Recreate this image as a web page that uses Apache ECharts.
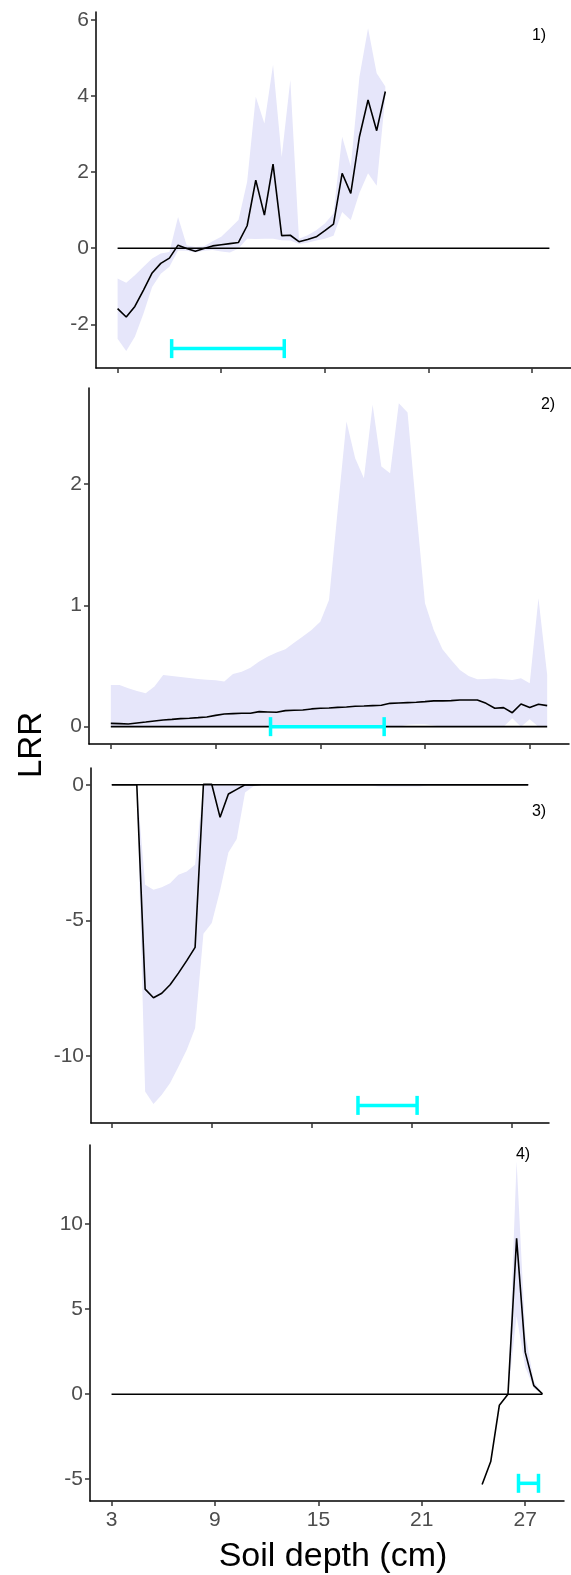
<!DOCTYPE html>
<html>
<head>
<meta charset="utf-8">
<script src="https://cdn.jsdelivr.net/npm/echarts@6/dist/echarts.min.js"></script>
<style>
  html, body { margin: 0; padding: 0; background: #fff; }
  #chart { width: 571px; height: 1575px; }
</style>
</head>
<body>
<div id="chart"></div>
<script>
// soil depth (cm), 0.5 cm steps
const depth = [3,3.5,4,4.5,5,5.5,6,6.5,7,7.5,8,8.5,9,9.5,10,10.5,11,11.5,12,12.5,13,13.5,14,14.5,15,15.5,
               16,16.5,17,17.5,18,18.5,19,19.5,20,20.5,21,21.5,22,22.5,23,23.5,24,24.5,25,25.5,26,26.5,27,27.5,28];
const depthP1 = [3,3.5,4,4.5,5,5.5,6,6.5,7,7.5,8,8.5,9,9.5,10,10.5,11,11.5,12,12.5,13,13.5,14,14.5,15,15.5,
                 16,16.5,17,17.5,18,18.5];

// panel 1
const p1Mean  = [-1.59,-1.81,-1.53,-1.10,-0.65,-0.40,-0.26,0.08,-0.01,-0.08,-0.01,0.06,0.09,0.12,0.15,0.59,
                 1.79,0.87,2.21,0.33,0.34,0.17,0.23,0.30,0.46,0.63,1.97,1.44,2.93,3.90,3.09,4.12];
const p1Upper = [-0.80,-0.91,-0.71,-0.49,-0.27,-0.14,-0.10,0.82,0.08,0.03,0.05,0.18,0.30,0.52,0.74,1.75,
                 3.98,3.28,4.82,2.40,4.42,0.25,0.34,0.47,0.65,0.91,2.93,2.15,4.50,5.78,4.60,4.25];
const p1Lower = [-2.38,-2.70,-2.33,-1.72,-1.02,-0.67,-0.49,-0.06,-0.07,-0.11,-0.07,-0.05,-0.09,-0.11,-0.01,0.25,
                 0.24,0.25,0.25,0.21,0.20,0.11,0.14,0.20,0.25,0.33,0.95,0.74,1.45,1.97,1.64,4.00];

// panel 2
const p2Mean  = [0.027,0.025,0.022,0.030,0.038,0.047,0.055,0.060,0.066,0.069,
                 0.074,0.080,0.093,0.104,0.107,0.110,0.110,0.124,0.121,0.118,
                 0.132,0.135,0.137,0.146,0.151,0.154,0.159,0.162,0.168,0.170,
                 0.173,0.176,0.192,0.195,0.198,0.201,0.206,0.212,0.212,0.214,
                 0.220,0.220,0.220,0.192,0.151,0.157,0.115,0.187,0.157,0.184,0.173];
const p2Upper = [0.343,0.343,0.316,0.294,0.275,0.330,0.426,0.418,0.409,0.400,
                 0.393,0.387,0.382,0.371,0.434,0.453,0.486,0.536,0.577,0.610,
                 0.637,0.692,0.742,0.797,0.865,1.044,1.786,2.514,2.212,2.047,
                 2.651,2.143,2.088,2.665,2.588,1.786,1.016,0.797,0.637,0.549,
                 0.467,0.418,0.390,0.393,0.396,0.390,0.385,0.398,0.357,1.058,0.426];
const p2Lower = [0,0,0,0,0,0,0,0,0,0,
                 0,0,0,0,0,0,0,0,0,0,
                 0,0,0,0,0,0,0,0,0,0,
                 0,0,0,0,0.015,0.02,0.02,0.01,0,0,
                 0,0,0,0,0,0,0.07,0,0.06,0,0];

// panel 3
const p3Mean  = [0,0,0,0,-7.54,-7.86,-7.69,-7.38,-6.95,-6.49,
                 -6.00,0.02,0.02,-1.20,-0.34,-0.17,0,-0.01,0,0,
                 0,0,0,0,0,0,0,0,0,0,
                 0,0,0,0,0,0,0,0,0,0,
                 0,0,0,0,0,0,0,0,0,0,0];
const p3Upper = [0,0,0,0,-3.69,-3.87,-3.78,-3.63,-3.32,-3.20,
                 -2.95,0.02,0.02,0.02,0.02,0.02,0.02,0.01,0,0,
                 0,0,0,0,0,0,0,0,0,0,
                 0,0,0,0,0,0,0,0,0,0,
                 0,0,0,0,0,0,0,0,0,0,0];
const p3Lower = [0,0,0,0,-11.32,-11.78,-11.44,-11.00,-10.40,-9.78,
                 -8.98,-5.50,-5.10,-3.90,-2.50,-2.00,-0.28,-0.05,-0.02,-0.02,
                 -0.02,-0.02,-0.02,-0.02,-0.02,-0.02,-0.02,-0.02,-0.02,-0.02,
                 -0.02,-0.02,-0.06,-0.06,-0.06,-0.06,-0.06,-0.06,-0.02,-0.02,
                 -0.02,-0.02,-0.02,-0.02,-0.02,-0.02,-0.02,-0.02,-0.02,-0.02,-0.02];

// panel 4
const p4Depth = [24.5,25,25.5,26,26.5,27,27.5,28];
const p4Mean  = [-5.31,-3.96,-0.65,0,9.16,2.47,0.50,0.02];
const p4BandDepth = [26,26.5,27,27.5,28];
const p4Upper = [0,13.7,3.6,0.75,0.02];
const p4Lower = [0,4.6,1.6,0.35,0];

// horizontal bars: [from, to, at LRR]
const barP1 = [6.13, 12.65, -2.64];
const barP2 = [12.15, 18.66, 0];
const barP3 = [17.78, 21.33, -11.83];
const barP4 = [26.61, 27.77, -5.24];

// zero reference
const refDepth = [3, 28];
const refValue = [0, 0];

const xTicks = [3, 9, 15, 21, 27];
const yTicks = [[-2, 0, 2, 4, 6], [0, 1, 2], [-10, -5, 0], [-5, 0, 5, 10]];
const yRange = [[-3.15, 6.21], [-0.143, 2.79], [-12.48, 0.62], [-6.28, 14.65]];
const panelTags = ['1)', '2)', '3)', '4)'];

const FONT = '"Liberation Sans", Arial, sans-serif';
const BAND = '#E6E6FA';
const CYAN = '#00FFFF';

const grids = [
    { left: 96, top: 12,   width: 476, height: 356 },
    { left: 89, top: 388,  width: 480, height: 356 },
    { left: 91, top: 768,  width: 458, height: 355 },
    { left: 90, top: 1145, width: 474, height: 356 },
];

const pairs = (xs, ys) => xs.map((x, i) => [x, ys[i]]);

function ribbon(idx, xs, lo, hi) {
    return {
        type: 'custom', xAxisIndex: idx, yAxisIndex: idx, silent: true, z: 1,
        data: [[xs[0], lo[0]]],
        renderItem: (params, api) => {
            const pts = [];
            xs.forEach((x, i) => pts.push(api.coord([x, hi[i]])));
            for (let i = xs.length - 1; i >= 0; i--) pts.push(api.coord([xs[i], lo[i]]));
            return { type: 'polygon', shape: { points: pts }, style: { fill: BAND } };
        },
    };
}

function line(idx, xs, ys, z) {
    return {
        type: 'line', xAxisIndex: idx, yAxisIndex: idx, silent: true, z: z,
        data: pairs(xs, ys), symbol: 'none',
        lineStyle: { color: '#000', width: 1.6 },
    };
}

function hbar(idx, bar) {
    return {
        type: 'custom', xAxisIndex: idx, yAxisIndex: idx, silent: true, z: 5,
        data: [bar],
        encode: { x: [0, 1], y: 2 },
        renderItem: (params, api) => {
            const a = api.coord([api.value(0), api.value(2)]);
            const b = api.coord([api.value(1), api.value(2)]);
            const h = 9.5;
            const st = { stroke: CYAN, lineWidth: 3.5 };
            return {
                type: 'group', children: [
                    { type: 'line', shape: { x1: a[0], y1: a[1], x2: b[0], y2: b[1] }, style: st },
                    { type: 'line', shape: { x1: a[0], y1: a[1] - h, x2: a[0], y2: a[1] + h }, style: st },
                    { type: 'line', shape: { x1: b[0], y1: b[1] - h, x2: b[0], y2: b[1] + h }, style: st },
                ],
            };
        },
    };
}

const xAxes = grids.map((g, i) => ({
    type: 'value', gridIndex: i, min: 1.75, max: 29.25,
    axisLine: { onZero: false, lineStyle: { color: '#000', width: 1.5 } },
    axisTick: { customValues: xTicks, length: 5, lineStyle: { color: '#333', width: 1.5 } },
    axisLabel: { show: i === 3, customValues: xTicks, color: '#4d4d4d', fontSize: 21, margin: 9, fontFamily: FONT },
    splitLine: { show: false },
}));

const yAxes = grids.map((g, i) => ({
    type: 'value', gridIndex: i, min: yRange[i][0], max: yRange[i][1],
    axisLine: { show: true, onZero: false, lineStyle: { color: '#000', width: 1.5 } },
    axisTick: { show: true, customValues: yTicks[i], length: 5, lineStyle: { color: '#333', width: 1.5 } },
    axisLabel: { customValues: yTicks[i], color: '#4d4d4d', fontSize: 21, margin: 7, fontFamily: FONT },
    splitLine: { show: false },
}));

const series = [
    ribbon(0, depthP1, p1Lower, p1Upper),
    line(0, refDepth, refValue, 2),
    line(0, depthP1, p1Mean, 3),
    hbar(0, barP1),

    ribbon(1, depth, p2Lower, p2Upper),
    line(1, refDepth, refValue, 2),
    line(1, depth, p2Mean, 3),
    hbar(1, barP2),

    ribbon(2, depth, p3Lower, p3Upper),
    line(2, refDepth, refValue, 2),
    line(2, depth, p3Mean, 3),
    hbar(2, barP3),

    ribbon(3, p4BandDepth, p4Lower, p4Upper),
    line(3, refDepth, refValue, 2),
    line(3, p4Depth, p4Mean, 3),
    hbar(3, barP4),
];

const tagPos = [[539, 36], [548, 405], [539, 812], [523, 1155]];
const graphic = panelTags.map((t, i) => ({
    type: 'text', x: tagPos[i][0], y: tagPos[i][1], z: 10,
    style: { text: t, fill: '#000', font: '16px ' + FONT, align: 'center', verticalAlign: 'middle' },
}));
graphic.push({
    type: 'text', x: 32, y: 745, rotation: Math.PI / 2,
    style: { text: 'LRR', fill: '#000', font: '33px ' + FONT, align: 'center', verticalAlign: 'middle' },
});
graphic.push({
    type: 'text', x: 333, y: 1557,
    style: { text: 'Soil depth (cm)', fill: '#000', font: '34px ' + FONT, align: 'center', verticalAlign: 'middle' },
});

const chart = echarts.init(document.getElementById('chart'), null, { renderer: 'canvas' });
chart.setOption({
    animation: false,
    backgroundColor: '#fff',
    grid: grids,
    xAxis: xAxes,
    yAxis: yAxes,
    series: series,
    graphic: graphic,
});
</script>
</body>
</html>
